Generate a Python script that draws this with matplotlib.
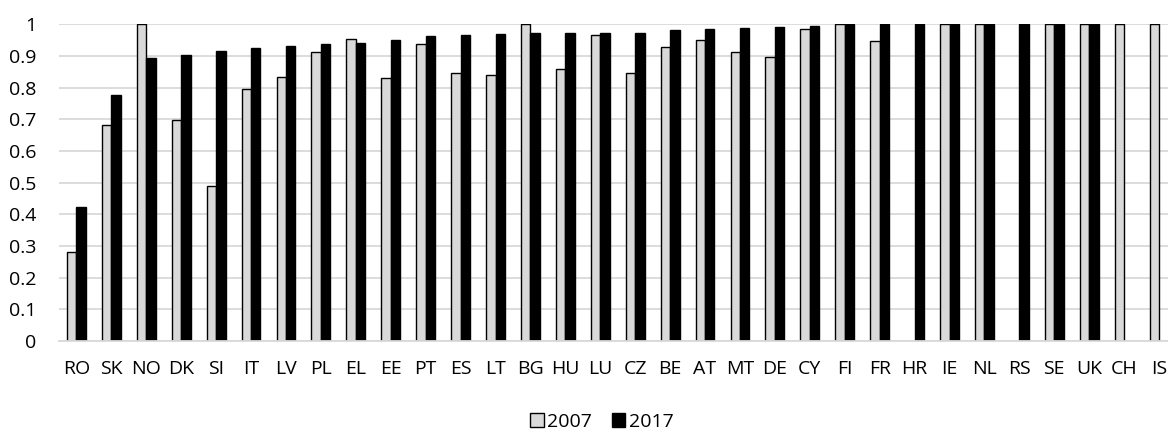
import numpy as np
import matplotlib.pyplot as plt

plt.rcParams['font.family'] = ['Open Sans', 'DejaVu Sans']

countries = ["RO", "SK", "NO", "DK", "SI", "IT", "LV", "PL", "EL", "EE", "PT", "ES",
             "LT", "BG", "HU", "LU", "CZ", "BE", "AT", "MT", "DE", "CY", "FI", "FR",
             "HR", "IE", "NL", "RS", "SE", "UK", "CH", "IS"]

# nan = no bar for that year
v2007 = [0.28, 0.681, 1.0, 0.697, 0.488, 0.797, 0.835, 0.911, 0.953, 0.832, 0.937, 0.847,
         0.84, 1.0, 0.859, 0.967, 0.847, 0.927, 0.952, 0.911, 0.896, 0.984, 1.0, 0.946,
         np.nan, 1.0, 1.0, np.nan, 1.0, 1.0, 1.0, 1.0]
v2017 = [0.424, 0.777, 0.893, 0.902, 0.915, 0.926, 0.931, 0.937, 0.942, 0.951, 0.964, 0.967,
         0.969, 0.971, 0.971, 0.971, 0.973, 0.982, 0.986, 0.989, 0.993, 0.996, 1.0, 1.0,
         1.0, 1.0, 1.0, 1.0, 1.0, 1.0, np.nan, np.nan]

x = np.arange(len(countries))
w = 0.27

fig = plt.figure(figsize=(11.68, 4.32), dpi=100)
ax = fig.add_axes([59 / 1168, 91 / 432, 1117.5 / 1168, 316.7 / 432])

ax.bar(x - w / 2, v2007, w, color="#d9d9d9", edgecolor="black", linewidth=1.0,
       label="2007", zorder=3)
ax.bar(x + w / 2, v2017, w, color="black", edgecolor="black", linewidth=1.0,
       label="2017", zorder=3)

ax.set_xlim(-0.5, len(countries) - 0.5)
ax.set_ylim(0, 1)
ax.set_yticks(np.arange(0, 1.01, 0.1))
ax.set_yticklabels(["0", "0.1", "0.2", "0.3", "0.4", "0.5", "0.6", "0.7", "0.8", "0.9", "1"])
ax.set_xticks(x)
ax.set_xticklabels(countries)
ax.tick_params(axis="both", length=0, labelsize=14, colors="#000000")
ax.tick_params(axis="y", pad=16.5)
ax.tick_params(axis="x", pad=14)

ax.grid(axis="y", color="#d9d9d9", linewidth=1.3, zorder=0)
for s in ["top", "right", "left"]:
    ax.spines[s].set_visible(False)
ax.spines["bottom"].set_color("#d9d9d9")
ax.spines["bottom"].set_linewidth(1.3)
ax.spines["bottom"].set_zorder(4)

fig.legend(loc="center", bbox_to_anchor=(602 / 1168, 1 - 422 / 432), ncol=2, frameon=False,
           fontsize=14, handlelength=0.7, handleheight=0.7, handletextpad=0.2,
           columnspacing=1.0, borderaxespad=0, borderpad=0)

fig.savefig("out.png", dpi=100)
